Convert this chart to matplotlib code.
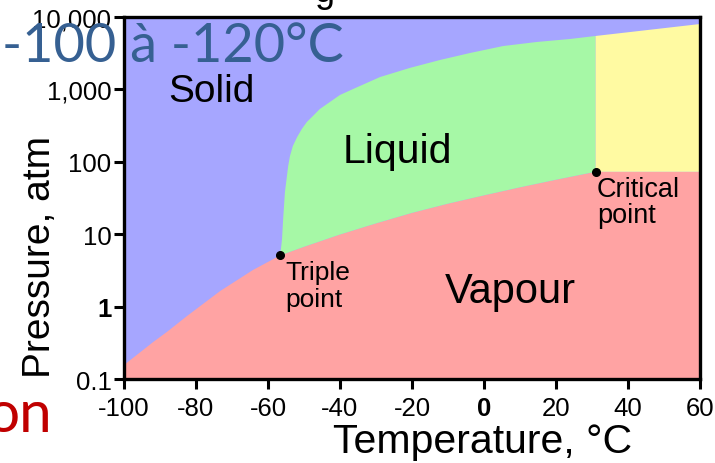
import matplotlib
matplotlib.use('Agg')
import matplotlib.pyplot as plt

plt.rcParams['font.family'] = ['Liberation Sans', 'DejaVu Sans']

# ---- data ----
sub_T = [-100, -91.9, -88.0, -82.5, -73.3, -64.2, -56.6]
sub_P = [0.156, 0.324, 0.45, 0.741, 1.64, 3.2, 5.1]
vap_T = [-56.6, -50, -40, -30, -20, -10, 0, 10, 20, 31]
vap_P = [5.1, 6.7, 9.9, 14.1, 19.7, 26.4, 34.4, 44.4, 56.5, 72.8]
melt_T = [-56.6, -56.1, -55.8, -55.3, -54.4, -53.9, -53.1, -51.9, -50.6, -49.2,
          -47.5, -45.6, -42.8, -40.0, -36.4, -28.9, -20.6, -12.2, -3.9, 5.3,
          14.7, 23.9, 31, 60]
melt_P = [5.1, 8.6, 16, 38, 87, 120, 165, 220, 284, 355,
          430, 536, 670, 838, 1010, 1480, 1980, 2550, 3180, 3970,
          4520, 4970, 5470, 8000]
triple = (-56.6, 5.1)
critical = (31, 72.8)
x_ticks = [-100, -80, -60, -40, -20, 0, 20, 40, 60]
x_ticklabels = ['-100', '-80', '-60', '-40', '-20', '0', '20', '40', '60']
y_ticks = [0.1, 1, 10, 100, 1000, 10000]
y_ticklabels = ['0.1', '1', '10', '100', '1,000', '10,000']

c_solid = '#a6a6ff'
c_liquid = '#a6f8a6'
c_vapour = '#ffa3a3'
c_super = '#fffaa2'

W, H = 715, 464
fig = plt.figure(figsize=(W / 100, H / 100), dpi=100)
ax = fig.add_axes([124 / W, 1 - 380 / H, 576 / W, 362 / H])
ax.set_yscale('log')
ax.set_xlim(-100, 60)
ax.set_ylim(0.1, 10000)
ax.set_facecolor(c_solid)

i31 = melt_T.index(critical[0])
# vapour region
vx = [sub_T[0]] + sub_T + vap_T[1:] + [60, 60]
vy = [0.1] + sub_P + vap_P[1:] + [critical[1], 0.1]
ax.fill(vx, vy, color=c_vapour, lw=0)
# liquid region
lx = vap_T + melt_T[:i31 + 1][::-1]
ly = vap_P + melt_P[:i31 + 1][::-1]
ax.fill(lx, ly, color=c_liquid, lw=0)
# supercritical region
sx = [critical[0], 60] + melt_T[i31:][::-1]
sy = [critical[1], critical[1]] + melt_P[i31:][::-1]
ax.fill(sx, sy, color=c_super, lw=0)

ax.plot([triple[0], critical[0]], [triple[1], critical[1]], 'o', color='black',
        ms=5.5, ls='none', zorder=5)

ax.set_xticks(x_ticks)
ax.set_xticklabels(x_ticklabels)
ax.set_yticks(y_ticks)
ax.set_yticklabels(y_ticklabels)
ax.minorticks_off()
for lab in ax.get_xticklabels():
    if lab.get_text() == '0':
        lab.set_fontweight('bold')
for lab in ax.get_yticklabels():
    if lab.get_text() == '1':
        lab.set_fontweight('bold')
ax.tick_params(direction='out', length=7, width=2.2, labelsize=18.5, colors='black')
ax.tick_params(axis='x', pad=5)
ax.tick_params(axis='y', pad=2)
for s in ax.spines.values():
    s.set_linewidth(2.4)
    s.set_color('black')

def px(x, y):
    return x / W, 1 - y / H

fig.text(*px(211, 102), 'Solid', fontsize=28, ha='center', va='baseline')
fig.text(*px(397, 163), 'Liquid', fontsize=29.5, ha='center', va='baseline')
fig.text(*px(510, 303), 'Vapour', fontsize=30, ha='center', va='baseline')
fig.text(*px(285, 280), 'Triple', fontsize=19, ha='left', va='baseline')
fig.text(*px(285, 307), 'point', fontsize=19, ha='left', va='baseline')
fig.text(*px(597, 197), 'Critical', fontsize=19.5, ha='left', va='baseline')
fig.text(*px(597, 223), 'point', fontsize=19.5, ha='left', va='baseline')

fig.text(*px(483, 453), 'Temperature, °C', fontsize=29.5, ha='center', va='baseline')
fig.text(*px(40, 257), 'Pressure, atm', fontsize=28, ha='center', va='center', rotation=90)

fig.text(*px(2, 62), '-100 à -120°C', fontsize=39, color='#366092',
         family=['Lato', 'DejaVu Sans'], ha='left', va='baseline')
fig.text(*px(52, 432), 'on', fontsize=42, color='#c00000',
         family=['Lato', 'DejaVu Sans'], ha='right', va='baseline')
fig.text(*px(324, 2), 'g', fontsize=26, color='black', ha='center', va='baseline')

fig.savefig('out.png', dpi=100)
